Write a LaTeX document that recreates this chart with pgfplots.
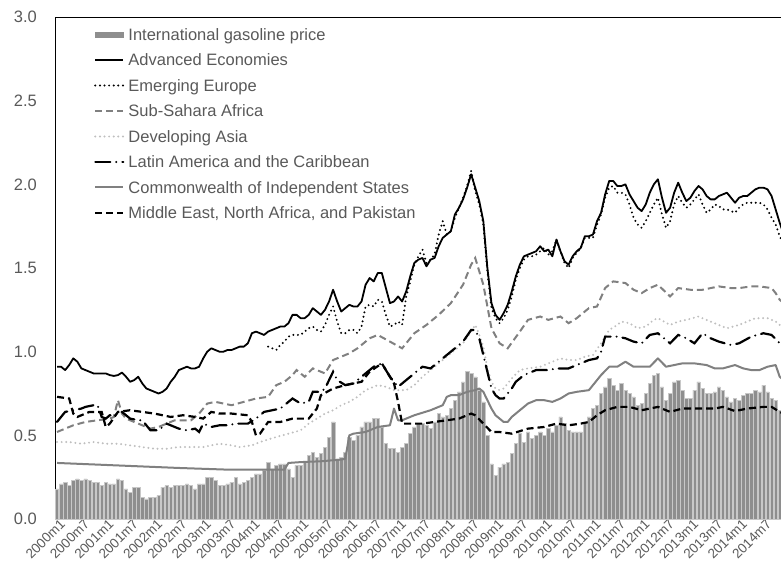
\documentclass[border=0pt]{standalone}
\usepackage{pgfplots}
\pgfplotsset{compat=1.18}
\usepackage{fontspec}
\setmainfont{Liberation Sans}
\definecolor{txtgray}{HTML}{595959}
\definecolor{midgray}{HTML}{808080}
\definecolor{lightgray}{HTML}{BFBFBF}
\definecolor{barfill}{HTML}{8E8E8E}
\definecolor{baredge}{HTML}{C8C8C8}
\begin{document}
\begin{tikzpicture}
\begin{axis}[
width=730.8bp,height=502bp,scale only axis,
xmin=-0.5,xmax=179.5,ymin=0,ymax=3,
axis line style={black,line width=0.8bp},
major tick length=0pt,
ytick={0,0.5,1,1.5,2,2.5,3},
yticklabels={0.0,0.5,1.0,1.5,2.0,2.5,3.0},
yticklabel style={font=\fontsize{16.5bp}{18bp}\selectfont,text=txtgray,inner sep=0pt,xshift=-18bp},
xtick={0,6,...,174},
xticklabels={2000m1,2000m7,2001m1,2001m7,2002m1,2002m7,2003m1,2003m7,2004m1,2004m7,2005m1,2005m7,2006m1,2006m7,2007m1,2007m7,2008m1,2008m7,2009m1,2009m7,2010m1,2010m7,2011m1,2011m7,2012m1,2012m7,2013m1,2013m7,2014m1,2014m7},
xticklabel style={font=\fontsize{13.5bp}{15bp}\selectfont,text=txtgray,rotate=45,anchor=north east,inner sep=1bp,xshift=3bp},
legend image code/.code={\draw[#1] (0bp,1.5bp) -- (28bp,1.5bp);},
legend cell align=left,
legend style={at={(0.0534,0.978)},anchor=north west,draw=none,fill=none,inner sep=0pt,
  font=\fontsize{16.5bp}{18bp}\selectfont,text=txtgray,row sep=10bp,column sep=4bp,
  nodes={inner sep=0pt,text height=12bp,text depth=3.5bp}},
]
\addplot[ybar,bar width=0.82,bar shift=0pt,fill=barfill,draw=baredge,line width=0.5bp,
  legend image code/.code={\fill[barfill] (0bp,-1bp) rectangle (28bp,4bp);}] coordinates {
(0,0.18) (1,0.21) (2,0.22) (3,0.20) (4,0.23) (5,0.24) (6,0.23) (7,0.24) (8,0.23) (9,0.22) (10,0.22) (11,0.20)
(12,0.22) (13,0.21) (14,0.21) (15,0.24) (16,0.23) (17,0.18) (18,0.16) (19,0.19) (20,0.19) (21,0.13) (22,0.12) (23,0.13)
(24,0.13) (25,0.14) (26,0.19) (27,0.20) (28,0.19) (29,0.20) (30,0.20) (31,0.20) (32,0.21) (33,0.20) (34,0.18) (35,0.21)
(36,0.21) (37,0.25) (38,0.25) (39,0.23) (40,0.20) (41,0.20) (42,0.21) (43,0.22) (44,0.25) (45,0.21) (46,0.22) (47,0.23)
(48,0.25) (49,0.27) (50,0.27) (51,0.29) (52,0.34) (53,0.30) (54,0.32) (55,0.33) (56,0.33) (57,0.30) (58,0.25) (59,0.32)
(60,0.32) (61,0.34) (62,0.38) (63,0.40) (64,0.37) (65,0.39) (66,0.43) (67,0.49) (68,0.58) (69,0.36) (70,0.37) (71,0.40)
(72,0.49) (73,0.47) (74,0.50) (75,0.55) (76,0.58) (77,0.58) (78,0.60) (79,0.60) (80,0.55) (81,0.45) (82,0.42) (83,0.42)
(84,0.40) (85,0.43) (86,0.45) (87,0.51) (88,0.55) (89,0.57) (90,0.57) (91,0.56) (92,0.54) (93,0.58) (94,0.63) (95,0.61)
(96,0.62) (97,0.66) (98,0.71) (99,0.76) (100,0.82) (101,0.88) (102,0.87) (103,0.85) (104,0.77) (105,0.70) (106,0.50) (107,0.33)
(108,0.26) (109,0.31) (110,0.33) (111,0.34) (112,0.39) (113,0.45) (114,0.51) (115,0.46) (116,0.52) (117,0.48) (118,0.50) (119,0.52)
(120,0.50) (121,0.54) (122,0.52) (123,0.56) (124,0.61) (125,0.57) (126,0.53) (127,0.52) (128,0.52) (129,0.52) (130,0.57) (131,0.61)
(132,0.66) (133,0.68) (134,0.75) (135,0.79) (136,0.84) (137,0.80) (138,0.77) (139,0.81) (140,0.77) (141,0.75) (142,0.73) (143,0.68)
(144,0.69) (145,0.75) (146,0.81) (147,0.86) (148,0.87) (149,0.79) (150,0.71) (151,0.75) (152,0.82) (153,0.83) (154,0.77) (155,0.72)
(156,0.72) (157,0.77) (158,0.82) (159,0.78) (160,0.75) (161,0.75) (162,0.76) (163,0.79) (164,0.77) (165,0.73) (166,0.70) (167,0.72)
(168,0.71) (169,0.74) (170,0.75) (171,0.75) (172,0.77) (173,0.76) (174,0.80) (175,0.76) (176,0.72) (177,0.71) (178,0.65) (179,0.58)
};
\addlegendentry{International gasoline price}
% Advanced Economies
\addplot[black,line width=1.8bp,line join=round] coordinates {
(0,0.91) (1,0.91) (2,0.89) (3,0.92) (4,0.96) (5,0.94) (6,0.90) (7,0.89) (8,0.88) (9,0.87) (10,0.87) (11,0.87)
(12,0.87) (13,0.86) (14,0.855) (15,0.86) (16,0.875) (17,0.85) (18,0.82) (19,0.83) (20,0.85) (21,0.81) (22,0.78) (23,0.77)
(24,0.76) (25,0.75) (26,0.76) (27,0.78) (28,0.82) (29,0.85) (30,0.89) (31,0.90) (32,0.91) (33,0.90) (34,0.90) (35,0.91)
(36,0.96) (37,1.00) (38,1.02) (39,1.01) (40,1.00) (41,1.00) (42,1.01) (43,1.01) (44,1.02) (45,1.03) (46,1.03) (47,1.05)
(48,1.11) (49,1.12) (50,1.11) (51,1.10) (52,1.12) (53,1.13) (54,1.14) (55,1.15) (56,1.15) (57,1.17) (58,1.22) (59,1.22)
(60,1.20) (61,1.20) (62,1.22) (63,1.26) (64,1.24) (65,1.22) (66,1.25) (67,1.30) (68,1.37) (69,1.30) (70,1.24) (71,1.26)
(72,1.28) (73,1.27) (74,1.27) (75,1.30) (76,1.40) (77,1.44) (78,1.42) (79,1.47) (80,1.47) (81,1.38) (82,1.29) (83,1.30)
(84,1.33) (85,1.30) (86,1.36) (87,1.45) (88,1.53) (89,1.55) (90,1.56) (91,1.51) (92,1.55) (93,1.56) (94,1.63) (95,1.68)
(96,1.70) (97,1.72) (98,1.82) (99,1.86) (100,1.91) (101,1.98) (102,2.06) (103,1.98) (104,1.90) (105,1.78) (106,1.50) (107,1.29)
(108,1.22) (109,1.19) (110,1.23) (111,1.28) (112,1.36) (113,1.45) (114,1.52) (115,1.57) (116,1.58) (117,1.59) (118,1.60) (119,1.63)
(120,1.60) (121,1.61) (122,1.57) (123,1.67) (124,1.60) (125,1.54) (126,1.52) (127,1.57) (128,1.60) (129,1.62) (130,1.69) (131,1.69)
(132,1.70) (133,1.78) (134,1.83) (135,1.94) (136,2.02) (137,2.02) (138,1.99) (139,1.99) (140,2.00) (141,1.94) (142,1.90) (143,1.86)
(144,1.84) (145,1.88) (146,1.95) (147,2.00) (148,2.03) (149,1.92) (150,1.83) (151,1.86) (152,1.95) (153,2.01) (154,1.95) (155,1.90)
(156,1.92) (157,1.96) (158,1.99) (159,1.97) (160,1.93) (161,1.91) (162,1.91) (163,1.93) (164,1.94) (165,1.95) (166,1.92) (167,1.89)
(168,1.92) (169,1.93) (170,1.93) (171,1.95) (172,1.97) (173,1.98) (174,1.98) (175,1.97) (176,1.93) (177,1.85) (178,1.77) (179,1.70)
};
\addlegendentry{Advanced Economies}
% Emerging Europe
\addplot[black,line width=2.2bp,line cap=round,dash pattern=on 0bp off 4.6bp] coordinates {
(52,1.03) (53,1.02) (54,1.01) (55,1.04) (56,1.06) (57,1.09) (58,1.10) (59,1.10) (60,1.10) (61,1.12) (62,1.14) (63,1.15)
(64,1.13) (65,1.12) (66,1.16) (67,1.22) (68,1.27) (69,1.18) (70,1.11) (71,1.11) (72,1.13) (73,1.13) (74,1.11) (75,1.15)
(76,1.27) (77,1.28) (78,1.27) (79,1.31) (80,1.30) (81,1.22) (82,1.15) (83,1.16) (84,1.18) (85,1.16) (86,1.33) (87,1.42)
(88,1.52) (89,1.57) (90,1.61) (91,1.53) (92,1.55) (93,1.58) (94,1.70) (95,1.78) (96,1.70) (97,1.72) (98,1.80) (99,1.86)
(100,1.92) (101,1.99) (102,2.08) (103,1.96) (104,1.88) (105,1.76) (106,1.48) (107,1.26) (108,1.20) (109,1.17) (110,1.20) (111,1.25)
(112,1.33) (113,1.43) (114,1.50) (115,1.55) (116,1.57) (117,1.57) (118,1.58) (119,1.60) (120,1.62) (121,1.58) (122,1.60) (123,1.67)
(124,1.60) (125,1.53) (126,1.50) (127,1.56) (128,1.59) (129,1.62) (130,1.68) (131,1.68) (132,1.68) (133,1.76) (134,1.82) (135,1.92)
(136,1.98) (137,1.99) (138,1.95) (139,1.95) (140,1.94) (141,1.88) (142,1.80) (143,1.76) (144,1.74) (145,1.78) (146,1.83) (147,1.88)
(148,1.92) (149,1.82) (150,1.74) (151,1.78) (152,1.88) (153,1.93) (154,1.89) (155,1.86) (156,1.88) (157,1.91) (158,1.94) (159,1.88)
(160,1.83) (161,1.85) (162,1.88) (163,1.87) (164,1.85) (165,1.85) (166,1.84) (167,1.83) (168,1.86) (169,1.88) (170,1.89) (171,1.89)
(172,1.89) (173,1.89) (174,1.88) (175,1.85) (176,1.80) (177,1.76) (178,1.69) (179,1.64)
};
\addlegendentry{Emerging Europe}
% Sub-Sahara Africa
\addplot[midgray,line width=2bp,dash pattern=on 7bp off 4bp] coordinates {
(0,0.52) (2,0.54) (4,0.56) (7,0.58) (10,0.59) (13,0.60) (14,0.61) (15,0.71) (16,0.63) (17,0.60) (19,0.58) (21,0.56)
(23,0.54) (25,0.55) (27,0.57) (29,0.59) (33,0.59) (35,0.63) (37,0.69) (39,0.70) (41,0.69) (43,0.68) (46,0.70) (49,0.72)
(52,0.73) (54,0.80) (56,0.82) (58,0.86) (59,0.89) (61,0.85) (63,0.90) (66,0.87) (68,0.95) (70,0.97) (72,0.99) (74,1.02)
(77,1.08) (79,1.10) (82,1.06) (85,1.02) (88,1.11) (91,1.16) (94,1.22) (97,1.29) (100,1.40) (102,1.52) (103,1.56) (105,1.40)
(107,1.14) (109,1.05) (111,1.02) (114,1.12) (116,1.19) (119,1.21) (121,1.19) (124,1.21) (126,1.17) (128,1.20) (131,1.26) (133,1.27)
(135,1.38) (137,1.42) (140,1.41) (142,1.37) (144,1.35) (146,1.38) (148,1.40) (151,1.33) (153,1.38) (156,1.37) (159,1.37) (161,1.38)
(163,1.39) (166,1.38) (168,1.38) (171,1.39) (173,1.39) (176,1.38) (177,1.35) (178,1.31) (179,1.29)
};
\addlegendentry{Sub-Sahara Africa}
% Developing Asia
\addplot[lightgray,line width=2.2bp,line cap=round,dash pattern=on 0bp off 4.6bp] coordinates {
(0,0.46) (3,0.46) (6,0.45) (9,0.46) (12,0.45) (15,0.45) (18,0.44) (21,0.43) (24,0.42) (27,0.42) (30,0.43) (33,0.43)
(36,0.43) (40,0.45) (43,0.44) (45,0.43) (48,0.44) (50,0.46) (54,0.49) (57,0.51) (60,0.53) (62,0.57) (64,0.60) (66,0.63)
(68,0.65) (70,0.68) (72,0.70) (74,0.73) (76,0.77) (79,0.80) (81,0.79) (83,0.77) (86,0.77) (88,0.80) (90,0.85) (92,0.89)
(94,0.93) (96,0.97) (98,1.01) (100,1.05) (102,1.12) (103,1.16) (104,1.10) (105,1.03) (106,0.90) (107,0.82) (108,0.78) (109,0.77)
(110,0.78) (112,0.84) (114,0.89) (116,0.90) (119,0.91) (122,0.94) (124,0.96) (126,0.95) (128,0.95) (130,0.97) (132,0.98) (134,1.05)
(136,1.13) (138,1.16) (139,1.18) (141,1.17) (143,1.14) (145,1.15) (147,1.19) (148,1.20) (151,1.16) (153,1.18) (155,1.19) (158,1.21)
(160,1.19) (162,1.17) (165,1.14) (168,1.16) (170,1.18) (172,1.20) (175,1.20) (177,1.18) (179,1.14)
};
\addlegendentry{Developing Asia}
% Latin America and the Caribbean
\addplot[black,line width=2.2bp,line cap=round,dash pattern=on 15bp off 6bp on 0bp off 6bp] coordinates {
(0,0.58) (1,0.61) (2,0.64) (4,0.65) (6,0.66) (7,0.67) (9,0.68) (10,0.68) (11,0.61) (12,0.60) (13,0.62) (14,0.62)
(16,0.64) (18,0.60) (20,0.59) (21,0.59) (23,0.53) (25,0.53) (27,0.57) (29,0.55) (30,0.54) (32,0.53) (34,0.54) (35,0.52)
(36,0.57) (38,0.55) (40,0.56) (42,0.56) (44,0.57) (47,0.57) (49,0.60) (51,0.64) (53,0.65) (55,0.66) (57,0.70) (58,0.72)
(60,0.69) (62,0.70) (63,0.76) (65,0.76) (66,0.78) (68,0.88) (69,0.83) (71,0.80) (73,0.81) (75,0.85) (78,0.91) (80,0.93)
(82,0.85) (84,0.79) (87,0.85) (90,0.91) (92,0.90) (95,0.96) (98,1.02) (100,1.06) (102,1.13) (103,1.13) (104,1.08) (105,0.98)
(106,0.88) (107,0.78) (108,0.74) (109,0.72) (110,0.72) (112,0.78) (113,0.82) (115,0.86) (118,0.89) (121,0.89) (123,0.90) (126,0.90)
(128,0.92) (131,0.95) (133,0.96) (134,1.00) (135,1.09) (136,1.09) (138,1.09) (140,1.08) (142,1.06) (144,1.05) (146,1.10) (148,1.11)
(151,1.05) (153,1.10) (155,1.08) (157,1.05) (159,1.11) (161,1.08) (163,1.06) (166,1.04) (168,1.05) (171,1.09) (174,1.11) (176,1.10)
(178,1.05) (179,1.03)
};
\addlegendentry{Latin America and the Caribbean}
% Commonwealth of Independent States
\addplot[midgray,line width=2bp,line join=round] coordinates {
(0,0.335) (10,0.325) (20,0.315) (30,0.305) (42,0.295) (56,0.295) (57,0.335) (60,0.34) (65,0.345) (70,0.355) (71,0.36) (72,0.50)
(73,0.51) (76,0.52) (79,0.55) (82,0.56) (83,0.66) (84,0.59) (85,0.59) (88,0.62) (92,0.65) (95,0.68) (96,0.73) (97,0.74)
(99,0.74) (101,0.76) (103,0.77) (104,0.78) (105,0.76) (106,0.71) (107,0.66) (108,0.62) (109,0.60) (110,0.58) (111,0.58) (112,0.61)
(114,0.65) (116,0.69) (118,0.71) (120,0.71) (122,0.70) (124,0.72) (126,0.75) (128,0.76) (131,0.77) (132,0.80) (134,0.86) (136,0.91)
(138,0.91) (140,0.94) (142,0.91) (144,0.91) (146,0.91) (148,0.96) (150,0.91) (152,0.92) (154,0.93) (157,0.93) (160,0.92) (162,0.90)
(164,0.90) (167,0.92) (169,0.90) (171,0.89) (173,0.89) (175,0.91) (177,0.92) (178,0.85) (179,0.83)
};
\addlegendentry{Commonwealth of Independent States}
% Middle East, North Africa, and Pakistan
\addplot[black,line width=2.2bp,dash pattern=on 7bp off 4bp] coordinates {
(0,0.73) (3,0.72) (4,0.63) (5,0.61) (7,0.63) (8,0.64) (11,0.64) (12,0.55) (13,0.57) (15,0.64) (18,0.65) (21,0.64)
(24,0.63) (28,0.61) (31,0.62) (34,0.61) (36,0.60) (38,0.64) (40,0.63) (43,0.63) (47,0.62) (48,0.58) (49,0.50) (50,0.51)
(52,0.58) (55,0.58) (58,0.60) (62,0.60) (64,0.66) (65,0.74) (68,0.78) (71,0.80) (73,0.81) (75,0.82) (77,0.88) (80,0.93)
(82,0.85) (83,0.81) (84,0.70) (85,0.57) (87,0.57) (90,0.57) (93,0.58) (96,0.59) (99,0.60) (102,0.63) (103,0.62) (105,0.57)
(107,0.52) (109,0.52) (112,0.51) (116,0.54) (120,0.55) (123,0.57) (126,0.56) (129,0.57) (131,0.58) (133,0.62) (135,0.65) (138,0.67)
(141,0.67) (144,0.65) (148,0.67) (151,0.64) (154,0.66) (158,0.66) (162,0.66) (164,0.67) (167,0.645) (170,0.66) (174,0.67) (176,0.67)
(178,0.64) (179,0.63)
};
\addlegendentry{Middle East, North Africa, and Pakistan}
\end{axis}
\pgfresetboundingbox
\path (-55bp,-58bp) rectangle (726bp,519bp);
\end{tikzpicture}
\end{document}
